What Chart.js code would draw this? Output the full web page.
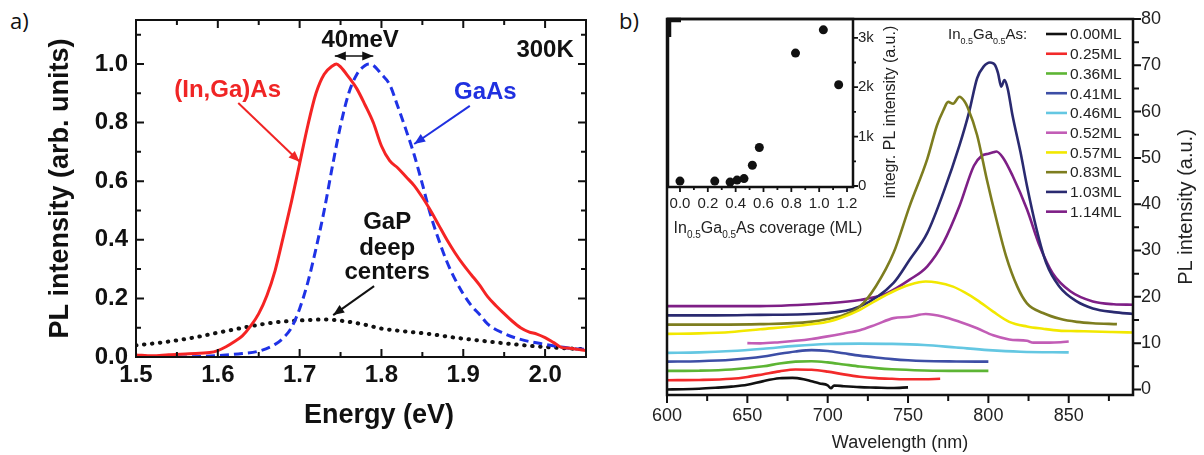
<!DOCTYPE html>
<html>
<head>
<meta charset="utf-8">
<script src="https://cdn.jsdelivr.net/npm/chart.js@4.4.1/dist/chart.umd.min.js"></script>
<style>
  body { margin: 0; background: #fff; width: 1204px; height: 455px; overflow: hidden; position: relative; }
  canvas { position: absolute; }
  .panel { position: absolute; font-family: "Open Sans", sans-serif; font-size: 22px; line-height: 22px; color: #111; }
</style>
</head>
<body>
<div class="panel" style="left:10px; top:9px">a)</div>
<div class="panel" style="left:619px; top:9px">b)</div>
<canvas id="chartA" width="600" height="455" style="left:0; top:0"></canvas>
<canvas id="chartB" width="604" height="455" style="left:600px; top:0"></canvas>
<canvas id="chartInset" width="250" height="245" style="left:655px; top:0"></canvas>
<script>
// ---------- panel a : normalised PL spectra vs energy ----------
const energyInGaAs = [1.50, 1.52, 1.54, 1.565, 1.59, 1.60, 1.61, 1.62, 1.63, 1.64, 1.65, 1.66, 1.67, 1.68, 1.69, 1.70, 1.71, 1.72, 1.73, 1.74, 1.745,
  1.75, 1.76, 1.77, 1.78, 1.79, 1.80, 1.81, 1.82, 1.83, 1.84, 1.85, 1.86, 1.87, 1.88, 1.89, 1.90, 1.91, 1.92, 1.93, 1.94, 1.95, 1.96, 1.97, 1.98, 1.99, 2.00, 2.01, 2.02, 2.03, 2.04, 2.05];
const plInGaAs = [0.007, 0.004, 0.008, 0.011, 0.015, 0.022, 0.035, 0.052, 0.072, 0.105, 0.148, 0.21, 0.295, 0.41, 0.53, 0.66, 0.79, 0.90, 0.965, 0.993, 1.0,
  0.99, 0.955, 0.915, 0.86, 0.80, 0.72, 0.67, 0.645, 0.615, 0.585, 0.545, 0.50, 0.45, 0.40, 0.355, 0.315, 0.28, 0.245, 0.205, 0.175, 0.148, 0.122, 0.10, 0.086, 0.078, 0.066, 0.05, 0.033, 0.03, 0.026, 0.022];

const energyGaAs = [1.50, 1.55, 1.60, 1.63, 1.65, 1.67, 1.68, 1.69, 1.70, 1.71, 1.72, 1.73, 1.74, 1.75, 1.76, 1.77, 1.78, 1.785,
  1.79, 1.80, 1.81, 1.82, 1.83, 1.84, 1.85, 1.86, 1.87, 1.88, 1.89, 1.90, 1.91, 1.92, 1.93, 1.95, 1.97, 2.00, 2.03, 2.05];
const plGaAs = [0.0, 0.0, 0.005, 0.012, 0.02, 0.043, 0.065, 0.1, 0.165, 0.255, 0.37, 0.5, 0.65, 0.79, 0.9, 0.965, 0.995, 1.0,
  0.995, 0.965, 0.93, 0.855, 0.775, 0.69, 0.59, 0.485, 0.40, 0.325, 0.265, 0.215, 0.175, 0.145, 0.112, 0.08, 0.06, 0.043, 0.03, 0.026];

const energyGaP = [1.50, 1.53, 1.57, 1.60, 1.62, 1.65, 1.68, 1.71, 1.73, 1.75, 1.78, 1.80, 1.83, 1.86, 1.89, 1.93, 1.97, 2.00, 2.05];
const plGaP = [0.04, 0.049, 0.066, 0.083, 0.094, 0.11, 0.121, 0.126, 0.128, 0.124, 0.11, 0.097, 0.087, 0.078, 0.066, 0.053, 0.041, 0.034, 0.026];

const energyTickLabels = [1.5, 1.6, 1.7, 1.8, 1.9, 2.0];
const intensityTickLabels = [0.0, 0.2, 0.4, 0.6, 0.8, 1.0];

// ---------- panel b : PL spectra for each In0.5Ga0.5As coverage (offset) ----------
const coverageLabels = ['0.00ML', '0.25ML', '0.36ML', '0.41ML', '0.46ML', '0.52ML', '0.57ML', '0.83ML', '1.03ML', '1.14ML'];

const wl000 = [600, 610, 620, 630, 640, 650, 660, 670, 678, 685, 690, 695, 700, 702, 704, 710, 720, 730, 740, 750];
const pl000 = [0, 0.05, 0.15, 0.35, 0.6, 1.0, 1.8, 2.4, 2.5, 2.2, 1.75, 1.3, 0.9, 0.25, 0.85, 0.7, 0.5, 0.4, 0.3, 0.45];
const wl025 = [600, 620, 640, 650, 660, 670, 680, 690, 700, 710, 720, 730, 740, 750, 760, 770];
const pl025 = [2.0, 2.05, 2.3, 2.7, 3.3, 3.9, 4.3, 4.25, 3.85, 3.25, 2.75, 2.45, 2.3, 2.2, 2.2, 2.3];
const wl036 = [600, 620, 640, 660, 670, 680, 690, 700, 710, 720, 730, 740, 760, 780, 800];
const pl036 = [4.0, 4.05, 4.3, 5.0, 5.6, 6.0, 6.1, 5.85, 5.4, 4.95, 4.6, 4.35, 4.1, 4.0, 4.0];
const wl041 = [600, 620, 640, 660, 670, 680, 690, 700, 710, 720, 730, 740, 750, 760, 780, 800];
const pl041 = [6.0, 6.1, 6.4, 7.1, 7.7, 8.2, 8.5, 8.3, 7.8, 7.3, 6.9, 6.55, 6.3, 6.15, 6.05, 6.0];
const wl046 = [600, 620, 640, 660, 680, 700, 720, 740, 760, 780, 800, 820, 850];
const pl046 = [7.9, 8.0, 8.3, 8.8, 9.4, 9.8, 9.9, 9.85, 9.6, 9.05, 8.5, 8.15, 8.0];
const wl052 = [650, 658, 670, 680, 690, 699, 710, 720, 730, 741, 751, 761, 772, 782, 793, 803, 813, 824, 828, 838, 845, 850];
const pl052 = [10.0, 9.95, 10.2, 10.5, 10.9, 11.4, 12.1, 12.8, 14.0, 15.4, 15.7, 16.3, 15.7, 14.6, 13.2, 11.7, 10.8, 10.5, 10.1, 10.1, 10.2, 10.35];
const wl057 = [600, 620, 640, 658, 680, 700, 710, 720, 730, 741, 751, 761, 768, 778, 785, 793, 803, 813, 824, 834, 844, 855, 865, 877, 890];
const pl057 = [12.0, 12.1, 12.4, 13.0, 13.7, 14.6, 15.7, 17.2, 19.2, 21.2, 22.6, 23.3, 23.1, 22.2, 21.0, 19.3, 16.8, 14.6, 13.6, 13.1, 12.7, 12.6, 12.5, 12.4, 12.3];
const wl083 = [600, 630, 658, 689, 700, 710, 720, 730, 741, 751, 762, 768, 772, 775, 778, 782, 785, 787, 793, 799, 805, 811, 818, 824, 834, 845, 855, 865, 880];
const pl083 = [14.0, 14.0, 14.1, 14.6, 15.2, 16.1, 17.9, 22.3, 29.5, 39.6, 49.8, 57.0, 60.3, 62.1, 61.7, 63.2, 62.3, 61.0, 54.9, 45.4, 36.7, 28.8, 22.2, 18.6, 16.5, 15.2, 14.6, 14.3, 14.1];
const wl103 = [600, 630, 658, 699, 720, 741, 751, 762, 772, 782, 788, 793, 797, 801, 804, 806, 808, 810, 812, 815, 820, 824, 830, 836, 844, 855, 865, 878, 890];
const pl103 = [16.0, 16.0, 16.1, 16.45, 17.9, 23.0, 28.0, 33.8, 42.5, 52.7, 59.9, 67.2, 69.7, 70.6, 70.1, 68.3, 65.4, 66.8, 65.0, 59.2, 51.2, 44.0, 34.6, 27.3, 22.3, 19.0, 17.5, 16.7, 16.3];
const wl114 = [600, 630, 658, 699, 720, 737, 751, 762, 772, 782, 791, 796, 800, 803, 805, 809, 815, 824, 832, 840, 851, 865, 878, 890];
const pl114 = [18.0, 18.0, 18.0, 18.6, 19.3, 20.8, 23.7, 26.6, 31.7, 39.6, 48.3, 50.5, 50.9, 51.2, 51.4, 50.1, 46.2, 38.9, 30.9, 25.1, 21.2, 19.0, 18.4, 18.3];

const wavelengthTickLabels = [600, 650, 700, 750, 800, 850];
const plTickLabels = [0, 10, 20, 30, 40, 50, 60, 70, 80];

// ---------- inset : integrated PL vs coverage ----------
const coverage = [0.0, 0.25, 0.36, 0.41, 0.46, 0.52, 0.57, 0.83, 1.03, 1.14];
const integratedPL = [100, 100, 80, 120, 150, 420, 780, 2690, 3160, 2050];
const coverageTickLabels = [0.0, 0.2, 0.4, 0.6, 0.8, 1.0, 1.2];
const integratedTickLabels = [0, 1000, 2000, 3000];


const FONT = "'Liberation Sans', Arial, sans-serif";
const seriesB = [[wl000, pl000], [wl025, pl025], [wl036, pl036], [wl041, pl041], [wl046, pl046],
  [wl052, pl052], [wl057, pl057], [wl083, pl083], [wl103, pl103], [wl114, pl114]];
const colorsB = ['#111111', '#f22a2a', '#5db534', '#3d4ea6', '#64c7e2', '#c25db6', '#f2e800', '#7d7d1f', '#2a2a70', '#7e1f86'];

function pts(xs, ys) {
    return xs.map((x, i) => ({ x: x, y: ys[i] }));
}

function fixAxis(size, key) {
    return (s) => {
        s[key] = size;
        s.paddingTop = 0; s.paddingBottom = 0; s.paddingLeft = 0; s.paddingRight = 0;
    };
}

function arrow(ctx, x1, y1, x2, y2, color, both) {
    const a = Math.atan2(y2 - y1, x2 - x1), h = 11, w = 4.5;
    ctx.strokeStyle = color; ctx.fillStyle = color;
    ctx.beginPath(); ctx.moveTo(x1, y1); ctx.lineTo(x2, y2); ctx.stroke();
    const head = (x, y, t) => {
        ctx.beginPath();
        ctx.moveTo(x, y);
        ctx.lineTo(x - h * Math.cos(t) + w * Math.sin(t), y - h * Math.sin(t) - w * Math.cos(t));
        ctx.lineTo(x - h * Math.cos(t) - w * Math.sin(t), y - h * Math.sin(t) + w * Math.cos(t));
        ctx.closePath(); ctx.fill();
    };
    head(x2, y2, a);
    if (both) head(x1, y1, a + Math.PI);
}

// text with subscripts: parts = [[text, isSub], ...]
function subText(ctx, parts, x, y, size, align) {
    const subSize = Math.round(size * 0.62);
    let total = 0;
    parts.forEach(p => { ctx.font = `${p[1] ? subSize : size}px ${FONT}`; total += ctx.measureText(p[0]).width; });
    let cx = align === 'center' ? x - total / 2 : x;
    ctx.textAlign = 'left'; ctx.textBaseline = 'alphabetic';
    parts.forEach(p => {
        ctx.font = `${p[1] ? subSize : size}px ${FONT}`;
        ctx.fillText(p[0], cx, p[1] ? y + size * 0.3 : y);
        cx += ctx.measureText(p[0]).width;
    });
}

// ---------------- panel a ----------------
const decorA = {
    id: 'decorA',
    afterDatasetsDraw(chart) {
        const { ctx, chartArea: a, scales: { x, y } } = chart;
        ctx.save();
        ctx.strokeStyle = '#111'; ctx.lineWidth = 2;
        ctx.strokeRect(a.left, a.top, a.right - a.left, a.bottom - a.top);
        ctx.beginPath();
        for (let i = 0; i <= 11; i++) {
            const v = 1.5 + i * 0.05, px = x.getPixelForValue(v), len = i % 2 ? 5 : 8;
            ctx.moveTo(px, a.bottom); ctx.lineTo(px, a.bottom - len);
            ctx.moveTo(px, a.top); ctx.lineTo(px, a.top + len);
        }
        for (let i = 0; i <= 11; i++) {
            const v = i * 0.1, py = y.getPixelForValue(v), len = i % 2 ? 5 : 8;
            ctx.moveTo(a.left, py); ctx.lineTo(a.left + len, py);
            ctx.moveTo(a.right, py); ctx.lineTo(a.right - len, py);
        }
        ctx.stroke();

        // annotations
        const X = v => x.getPixelForValue(v), Y = v => y.getPixelForValue(v);
        ctx.textAlign = 'center'; ctx.textBaseline = 'middle';
        ctx.font = `bold 24px ${FONT}`;
        ctx.fillStyle = '#111';
        ctx.fillText('40meV', X(1.774), Y(1.082));
        ctx.fillText('300K', X(2.0), Y(1.048));
        ctx.fillText('GaP', X(1.807), Y(0.461));
        ctx.fillText('deep', X(1.807), Y(0.372));
        ctx.fillText('centers', X(1.807), Y(0.29));
        ctx.fillStyle = '#f02525';
        ctx.fillText('(In,Ga)As', X(1.612), Y(0.911));
        ctx.fillStyle = '#1f30e0';
        ctx.fillText('GaAs', X(1.927), Y(0.904));

        ctx.lineWidth = 1.5;
        arrow(ctx, X(1.743), Y(1.027), X(1.79), Y(1.027), '#111', true);
        ctx.lineWidth = 2;
        arrow(ctx, X(1.625), Y(0.867), X(1.700), Y(0.666), '#f02525', false);
        arrow(ctx, X(1.908), Y(0.857), X(1.840), Y(0.727), '#1f30e0', false);
        arrow(ctx, X(1.791), Y(0.242), X(1.741), Y(0.143), '#111', false);

        ctx.fillStyle = '#111';
        ctx.font = `bold 27px ${FONT}`;
        ctx.fillText('Energy (eV)', 379, 416);
        ctx.restore();
    }
};

new Chart(document.getElementById('chartA'), {
    type: 'scatter',
    data: {
        datasets: [
            { label: '(In,Ga)As', data: pts(energyInGaAs, plInGaAs), showLine: true, borderColor: '#f52424', borderWidth: 3, pointRadius: 0, cubicInterpolationMode: 'monotone' },
            { label: 'GaAs', data: pts(energyGaAs, plGaAs), showLine: true, borderColor: '#1f32e6', borderWidth: 3, borderDash: [9, 5], pointRadius: 0, cubicInterpolationMode: 'monotone' },
            { label: 'GaP deep centers', data: pts(energyGaP, plGaP), showLine: true, borderColor: '#111', borderWidth: 4, borderDash: [0.5, 7.5], borderCapStyle: 'round', pointRadius: 0, cubicInterpolationMode: 'monotone' }
        ]
    },
    options: {
        responsive: false, animation: false, devicePixelRatio: 1,
        layout: { padding: { left: 0, top: 20, right: 14, bottom: 0 } },
        plugins: { legend: { display: false }, tooltip: { enabled: false } },
        scales: {
            x: {
                type: 'linear', min: 1.5, max: 2.05,
                afterBuildTicks: s => { s.ticks = energyTickLabels.map(v => ({ value: v })); },
                afterFit: fixAxis(98, 'height'),
                grid: { display: false, drawTicks: false }, border: { display: false },
                ticks: { callback: v => v.toFixed(1), font: { family: FONT, size: 24, weight: 'bold' }, color: '#111', padding: 4 }
            },
            y: {
                type: 'linear', min: 0, max: 1.15,
                afterBuildTicks: s => { s.ticks = intensityTickLabels.map(v => ({ value: v })); },
                afterFit: fixAxis(136, 'width'),
                grid: { display: false, drawTicks: false }, border: { display: false },
                ticks: { callback: v => v.toFixed(1), font: { family: FONT, size: 24, weight: 'bold' }, color: '#111', padding: 8 },
                title: { display: true, text: 'PL intensity (arb. units)', font: { family: FONT, size: 27, weight: 'bold' }, color: '#111', padding: { top: 44, bottom: 0 } }
            }
        }
    },
    plugins: [decorA]
});

// ---------------- panel b ----------------
const decorB = {
    id: 'decorB',
    afterDraw(chart) {
        const { ctx, chartArea: a, scales: { x, y } } = chart;
        ctx.save();
        ctx.strokeStyle = '#111'; ctx.lineWidth = 2.5;
        ctx.beginPath();
        ctx.moveTo(a.left, a.bottom); ctx.lineTo(a.left, a.top); ctx.lineTo(a.right, a.top);
        ctx.lineTo(a.right, a.bottom); ctx.closePath();
        ctx.stroke();
        ctx.lineWidth = 2;
        ctx.beginPath();
        for (let v = 600; v <= 890; v += 25) {
            const px = x.getPixelForValue(v), len = v % 50 ? 6 : 8;
            ctx.moveTo(px, a.bottom); ctx.lineTo(px, a.bottom + len);
        }
        for (let v = 0; v <= 80; v += 5) {
            const py = y.getPixelForValue(v), len = v % 10 ? 6 : 8;
            ctx.moveTo(a.right, py); ctx.lineTo(a.right + len, py);
        }
        ctx.stroke();

        // legend
        ctx.fillStyle = '#222';
        subText(ctx, [['In', false], ['0.5', true], ['Ga', false], ['0.5', true], ['As:', false]], 348, 39, 15, 'left');
        ctx.textAlign = 'left'; ctx.textBaseline = 'middle';
        ctx.font = `15.5px ${FONT}`;
        chart.data.datasets.forEach((ds, i) => {
            const ry = 34 + i * 19.74;
            ctx.strokeStyle = ds.borderColor; ctx.lineWidth = 2.6;
            ctx.beginPath(); ctx.moveTo(446, ry); ctx.lineTo(467, ry); ctx.stroke();
            ctx.fillStyle = '#222';
            ctx.fillText(ds.label, 470, ry + 1);
        });

        // right axis title (reads bottom to top)
        ctx.save();
        ctx.translate(586, 207);
        ctx.rotate(-Math.PI / 2);
        ctx.textAlign = 'center'; ctx.textBaseline = 'middle';
        ctx.font = `20px ${FONT}`;
        ctx.fillText('PL intensity (a.u.)', 0, 0);
        ctx.restore();
        ctx.restore();
    }
};

new Chart(document.getElementById('chartB'), {
    type: 'scatter',
    data: {
        datasets: seriesB.map((s, i) => ({
            label: coverageLabels[i], data: pts(s[0], s[1]), showLine: true,
            borderColor: colorsB[i], borderWidth: 2.6, pointRadius: 0, cubicInterpolationMode: 'monotone'
        }))
    },
    options: {
        responsive: false, animation: false, devicePixelRatio: 1,
        layout: { padding: { left: 67, top: 19, right: 0, bottom: 0 } },
        plugins: { legend: { display: false }, tooltip: { enabled: false } },
        scales: {
            x: {
                type: 'linear', min: 600, max: 890,
                afterBuildTicks: s => { s.ticks = wavelengthTickLabels.map(v => ({ value: v })); },
                afterFit: fixAxis(60, 'height'),
                grid: { display: false, drawTicks: false }, border: { display: false },
                ticks: { font: { family: FONT, size: 18 }, color: '#222', padding: 10 },
                title: { display: true, text: 'Wavelength (nm)', font: { family: FONT, size: 18 }, color: '#222', padding: { top: 0, bottom: 1 } }
            },
            y: {
                type: 'linear', position: 'right', min: -1.2, max: 80,
                afterBuildTicks: s => { s.ticks = plTickLabels.map(v => ({ value: v })); },
                afterFit: fixAxis(71, 'width'),
                grid: { display: false, drawTicks: false }, border: { display: false },
                ticks: { font: { family: FONT, size: 18 }, color: '#222', padding: 8 }
            }
        }
    },
    plugins: [decorB]
});

// ---------------- inset ----------------
const decorInset = {
    id: 'decorInset',
    afterDraw(chart) {
        const { ctx, chartArea: a, scales: { x, y } } = chart;
        ctx.save();
        ctx.strokeStyle = '#111'; ctx.lineWidth = 2.5;
        ctx.strokeRect(a.left, a.top, a.right - a.left, a.bottom - a.top);
        ctx.lineWidth = 4.5;
        ctx.beginPath();
        ctx.moveTo(a.left + 1, a.top + 18); ctx.lineTo(a.left + 1, a.top + 1); ctx.lineTo(a.left + 13, a.top + 1);
        ctx.stroke();
        ctx.lineWidth = 1.8;
        ctx.beginPath();
        for (let i = 0; i <= 12; i++) {
            const px = x.getPixelForValue(i * 0.1), len = i % 2 ? 3 : 5;
            ctx.moveTo(px, a.bottom); ctx.lineTo(px, a.bottom + len);
        }
        for (let v = 0; v <= 3000; v += 500) {
            const py = y.getPixelForValue(v), len = v % 1000 ? 3 : 5;
            ctx.moveTo(a.right, py); ctx.lineTo(a.right + len, py);
        }
        ctx.stroke();

        ctx.fillStyle = '#222';
        subText(ctx, [['In', false], ['0.5', true], ['Ga', false], ['0.5', true], ['As coverage (ML)', false]], 113, 233, 16, 'center');

        ctx.save();
        ctx.translate(236, 112);
        ctx.rotate(-Math.PI / 2);
        ctx.textAlign = 'center'; ctx.textBaseline = 'middle';
        ctx.font = `16px ${FONT}`;
        ctx.fillText('integr. PL intensity (a.u.)', 0, 0);
        ctx.restore();
        ctx.restore();
    }
};

new Chart(document.getElementById('chartInset'), {
    type: 'scatter',
    data: {
        datasets: [{ label: 'integrated PL', data: pts(coverage, integratedPL), pointRadius: 4.5, pointBackgroundColor: '#111', pointBorderColor: '#111', pointBorderWidth: 0 }]
    },
    options: {
        responsive: false, animation: false, devicePixelRatio: 1,
        layout: { padding: { left: 13, top: 19, right: 0, bottom: 0 } },
        plugins: { legend: { display: false }, tooltip: { enabled: false } },
        scales: {
            x: {
                type: 'linear', min: -0.086, max: 1.243,
                afterBuildTicks: s => { s.ticks = coverageTickLabels.map(v => ({ value: v })); },
                afterFit: fixAxis(58, 'height'),
                grid: { display: false, drawTicks: false }, border: { display: false },
                ticks: { callback: v => v.toFixed(1), font: { family: FONT, size: 15 }, color: '#222', padding: 8 }
            },
            y: {
                type: 'linear', position: 'right', min: -20, max: 3380,
                afterBuildTicks: s => { s.ticks = integratedTickLabels.map(v => ({ value: v })); },
                afterFit: fixAxis(52, 'width'),
                grid: { display: false, drawTicks: false }, border: { display: false },
                ticks: { callback: v => v === 0 ? '0' : (v / 1000) + 'k', font: { family: FONT, size: 15 }, color: '#222', padding: 5 }
            }
        }
    },
    plugins: [decorInset]
});
</script>
</body>
</html>
